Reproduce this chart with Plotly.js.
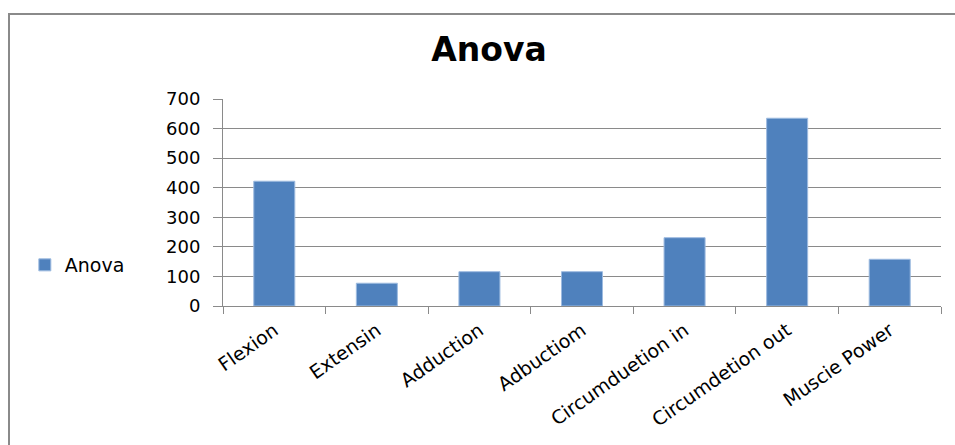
<!DOCTYPE html>
<html>
<head>
<meta charset="utf-8">
<script src="https://cdn.plot.ly/plotly-3.0.1.min.js"></script>
<style>
  html, body { margin: 0; padding: 0; background: #fff; overflow: hidden; }
  #wrap { position: relative; width: 955px; height: 445px; }
  #chart { position: absolute; left: 0; top: 0; width: 955px; height: 445px; }
  #frame { position: absolute; left: 8px; top: 13px; width: 960px; height: 440px;
           border-left: 2px solid #8a8a8a; border-top: 2px solid #8a8a8a; pointer-events: none; }
  .wm { position: absolute; pointer-events: none; }
</style>
</head>
<body>
<div id="wrap">
  <div class="wm" style="left:0;top:0;width:9px;height:112px;background:linear-gradient(to bottom,#dcdcdc,#e6e6e6 80%,#fff);"></div>
  <div class="wm" style="left:0;top:185px;width:8px;height:65px;background:linear-gradient(to bottom,#fff,#fbd9d9 40%,#fbd9d9 70%,#fff);"></div>
  <div class="wm" style="left:390px;top:0;width:70px;height:13px;background:linear-gradient(to right,#fff,#fbe3dc,#f8d6d0);"></div>
  <div class="wm" style="left:460px;top:0;width:85px;height:13px;background:linear-gradient(to right,#e4f1e4,#eef6ee,#fff);"></div>
  <div id="chart"></div>
  <div id="frame"></div>
</div>
<script>
const categories = ["Flexion", "Extensin", "Adduction", "Adbuctiom", "Circumduetion in", "Circumdetion out", "Muscie Power"];
const anovaValues = [422, 77, 116, 116, 231, 635, 158];
const yTickValues = [0, 100, 200, 300, 400, 500, 600, 700];
const seriesName = "Anova";
const chartTitle = "Anova";

const trace = {
  type: "bar",
  name: seriesName,
  x: categories,
  y: anovaValues,
  marker: { color: "#4f81bd", line: { color: "#9dbbe0", width: 1 } },
  showlegend: true,
  hoverinfo: "x+y"
};

const layout = {
  width: 955,
  height: 445,
  margin: { l: 223, r: 14, t: 99, b: 139 },
  paper_bgcolor: "#ffffff",
  plot_bgcolor: "#ffffff",
  bargap: 0.6,
  title: {
    text: "<b>" + chartTitle + "</b>",
    font: { family: "DejaVu Sans, sans-serif", size: 33, color: "#000" },
    x: 0.512, xanchor: "center", xref: "container",
    y: 52, yref: "container", yanchor: "middle"
  },
  font: { family: "DejaVu Sans, sans-serif", color: "#000" },
  xaxis: {
    type: "category",
    tickson: "boundaries",
    ticks: "outside",
    ticklen: 7,
    tickcolor: "#8a8a8a",
    tickwidth: 1,
    showline: true,
    linecolor: "#8a8a8a",
    linewidth: 1,
    showgrid: false,
    tickangle: -35,
    ticklabelstandoff: 5,
    tickfont: { family: "DejaVu Sans, sans-serif", size: 19, color: "#000" },
    fixedrange: true
  },
  yaxis: {
    range: [0, 700],
    tickvals: yTickValues,
    ticktext: yTickValues.map(String),
    ticks: "outside",
    ticklen: 9,
    tickcolor: "#8a8a8a",
    showline: true,
    linecolor: "#8a8a8a",
    linewidth: 1,
    showgrid: true,
    gridcolor: "#8a8a8a",
    gridwidth: 1,
    zeroline: false,
    ticklabelstandoff: 9,
    tickfont: { family: "DejaVu Sans, sans-serif", size: 18, color: "#000" },
    fixedrange: true
  },
  legend: {
    x: -0.276, xanchor: "left",
    y: 0.198, yanchor: "middle",
    font: { family: "DejaVu Sans, sans-serif", size: 19, color: "#000" },
    bgcolor: "rgba(0,0,0,0)",
    itemwidth: 30
  }
};

Plotly.newPlot("chart", [trace], layout, { displayModeBar: false, responsive: false });
</script>
</body>
</html>
